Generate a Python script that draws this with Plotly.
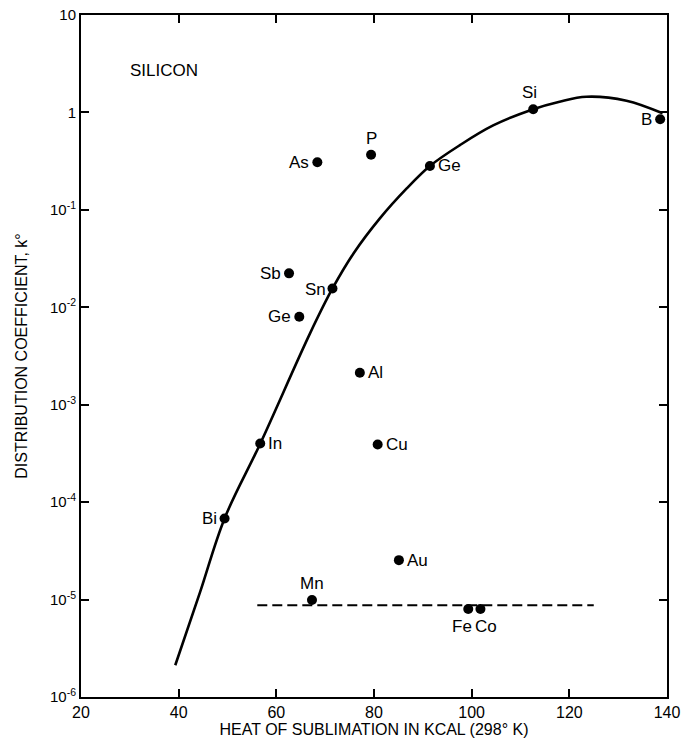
import plotly.graph_objects as go
import numpy as np

# Impurity data points (heat of sublimation, distribution coefficient)
elements = ["Bi", "In", "Ge", "Sb", "Sn", "As", "P", "Ge", "Si", "B",
            "Al", "Cu", "Au", "Mn", "Fe", "Co"]
heat = [49.4, 56.7, 64.7, 62.6, 71.5, 68.4, 79.4, 91.45, 112.6, 138.6,
        77.1, 80.75, 85.1, 67.3, 99.3, 101.8]
k0 = [6.8e-5, 4.0e-4, 8.0e-3, 0.0223, 0.0156, 0.308, 0.368, 0.282, 1.08, 0.85,
      2.13e-3, 3.9e-4, 2.54e-5, 9.9e-6, 8.0e-6, 8.0e-6]
label_pos = ["left", "right", "left", "left", "left", "left", "above", "right", "above", "left",
             "right", "right", "right", "above", "below", "below"]

# Fitted curve
curve_x = [39.3, 44.4, 49.4, 56.7, 66.9, 71.5, 75.8, 81.2, 86.7,
           91.45, 97.6, 104.4, 112.6, 118.0, 123.5, 131.7, 139.1]
curve_y = [2.12e-6, 1.2e-5, 6.81e-5, 3.98e-4, 5.40e-3, 0.0156, 0.0357, 0.0818, 0.166,
           0.282, 0.462, 0.735, 1.08, 1.29, 1.45, 1.32, 0.98]

# Dashed horizontal line
dash_x = [56.1, 125.0]
dash_y = [8.75e-6, 8.75e-6]

x_ticks = [20, 40, 60, 80, 100, 120, 140]
y_ticks = [1e-6, 1e-5, 1e-4, 1e-3, 1e-2, 1e-1, 1, 10]
y_ticktext = ["10<sup>-6</sup>", "10<sup>-5</sup>", "10<sup>-4</sup>", "10<sup>-3</sup>",
              "10<sup>-2</sup>", "10<sup>-1</sup>", "1", "10"]

FONT = "Liberation Sans, Arial, sans-serif"

fig = go.Figure()
fig.add_trace(go.Scatter(x=curve_x, y=curve_y, mode="lines",
                         line=dict(color="black", width=2.6, shape="spline", smoothing=1.0),
                         hoverinfo="skip", showlegend=False))
fig.add_trace(go.Scatter(x=dash_x, y=dash_y, mode="lines",
                         line=dict(color="black", width=2, dash="10px,5px"),
                         hoverinfo="skip", showlegend=False))
fig.add_trace(go.Scatter(x=heat, y=k0, mode="markers",
                         marker=dict(color="black", size=10),
                         text=elements, showlegend=False))

for name, xv, yv, pos in zip(elements, heat, k0, label_pos):
    ann = dict(x=xv, y=np.log10(yv), xref="x", yref="y", text=name, showarrow=False,
               font=dict(family=FONT, size=17, color="black"))
    if pos == "left":
        ann.update(xanchor="right", yanchor="middle", xshift=-6)
    elif pos == "right":
        ann.update(xanchor="left", yanchor="middle", xshift=6)
    elif pos == "above":
        ann.update(xanchor="center", yanchor="bottom", yshift=5)
    else:
        ann.update(xanchor="center", yanchor="top", yshift=-6)
    if name == "Si":
        ann.update(xshift=-4)
    if name == "Sn":
        ann.update(xshift=-4, yshift=-1)
    if name == "Fe":
        ann.update(xshift=-6)
    if name == "Co":
        ann.update(xshift=6)
    fig.add_annotation(**ann)

fig.add_annotation(x=0.08, y=0.919, xref="paper", yref="paper", text="SILICON",
                   showarrow=False, xanchor="left", yanchor="middle",
                   font=dict(family=FONT, size=17, color="black"))

fig.update_xaxes(range=[20, 140], tickvals=x_ticks, ticks="inside", ticklen=8, tickwidth=1.5,
                 tickcolor="black", showline=True, linecolor="black", linewidth=2,
                 mirror="ticks", showgrid=False, zeroline=False, automargin=False,
                 tickfont=dict(family=FONT, size=16, color="black"),
                 title=dict(text="HEAT OF SUBLIMATION IN KCAL (298° K)",
                            font=dict(family=FONT, size=16, color="black"), standoff=2))
fig.update_yaxes(type="log", range=[-6, 1], tickvals=y_ticks, ticktext=y_ticktext,
                 ticks="inside", ticklen=8, tickwidth=1.5, tickcolor="black",
                 showline=True, linecolor="black", linewidth=2, mirror="ticks",
                 showgrid=False, zeroline=False, automargin=False,
                 tickfont=dict(family=FONT, size=15, color="black"),
                 title=dict(text="DISTRIBUTION COEFFICIENT, k°",
                            font=dict(family=FONT, size=16, color="black"), standoff=18))

fig.update_layout(width=687, height=743, margin=dict(l=81, r=20, t=15, b=46),
                  paper_bgcolor="white", plot_bgcolor="white", showlegend=False)

fig.write_html("out.html", config={"displayModeBar": False},
               post_script="document.body.style.margin='0';")
